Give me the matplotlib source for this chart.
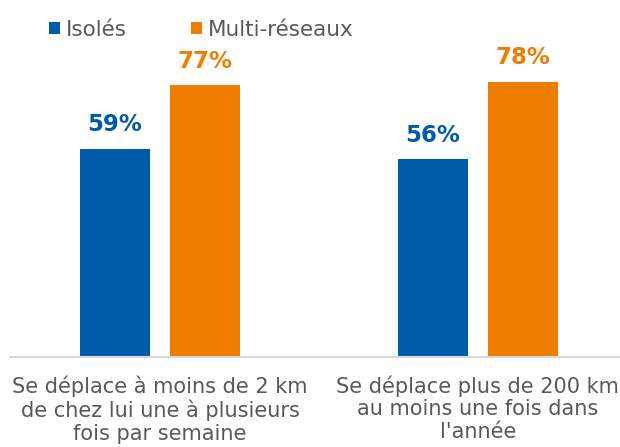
import matplotlib.pyplot as plt
import numpy as np

categories = ["Se déplace à moins de 2 km\nde chez lui une à plusieurs\nfois par semaine",
              "Se déplace plus de 200 km\nau moins une fois dans\nl'année"]
series = ["Isolés", "Multi-réseaux"]
isoles = [59, 56]
multi = [77, 78]

blue = '#005BA9'
orange = '#EF7D00'
grey = '#595959'

fig = plt.figure(figsize=(6.2, 4.47), dpi=100)
ax = fig.add_axes([10 / 620, 90 / 447, 610 / 620, 357 / 447])

x = np.arange(len(categories))
w = 0.22
b1 = ax.bar(x - 0.142, isoles, w, color=blue, label=series[0])
b2 = ax.bar(x + 0.142, multi, w, color=orange, label=series[1])

for bars, vals, c in [(b1, isoles, blue), (b2, multi, orange)]:
    for r, v in zip(bars, vals):
        ax.text(r.get_x() + r.get_width() / 2, v + 3.5, f"{v}%", ha='center', va='bottom',
                fontsize=16.5, fontweight='bold', color=c)

ax.set_xlim(-0.472, 1.447)
ax.set_ylim(0, 101.1)
ax.set_yticks([])
ax.set_xticks(x)
ax.set_xticklabels(categories, fontsize=15, color=grey, linespacing=1.17)
ax.tick_params(axis='x', length=0, pad=13)
for s in ['top', 'right', 'left']:
    ax.spines[s].set_visible(False)
ax.spines['bottom'].set_color('#d9d9d9')
ax.spines['bottom'].set_linewidth(1.5)

leg = fig.legend(loc='upper left', bbox_to_anchor=(49 / 620, 1 - 20 / 447), ncol=2, frameon=False,
                 fontsize=15.5, handlelength=0.5, handleheight=0.5, handletextpad=0.28,
                 columnspacing=3.0, labelcolor=grey, borderpad=0, borderaxespad=0)

fig.savefig('out.png', dpi=100)
